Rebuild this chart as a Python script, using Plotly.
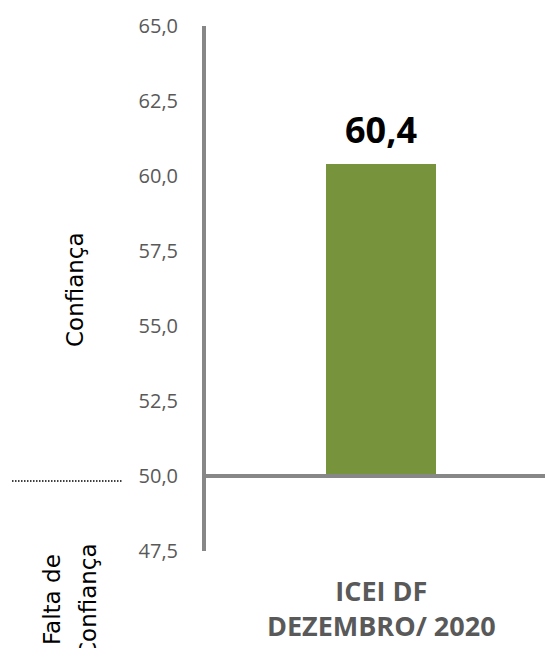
import plotly.graph_objects as go

# ---- data ----
categories = ["ICEI DF<br>DEZEMBRO/ 2020"]
values = [60.4]
baseline = 50.0
y_ticks = [47.5, 50.0, 52.5, 55.0, 57.5, 60.0, 62.5, 65.0]
y_range = [47.5, 65.0]

# page has an 8px body margin; compensate so the figure lands where the reference is
OFF = 8
W, H = 553 - OFF, 648 - OFF
ML, MR, MT, MB = 206 - OFF, 0, 26 - OFF, 97
PW, PH = W - ML - MR, H - MT - MB

def px_x(px):
    return (px - OFF - ML) / PW

def px_y(py):
    return (H - MB - (py - OFF)) / PH

fig = go.Figure()
fig.add_trace(go.Bar(
    x=categories,
    y=[v - baseline for v in values],
    base=[baseline] * len(values),
    marker=dict(color="#77933C", line=dict(width=0)),
    width=0.315,
    hoverinfo="skip",
))

for c, v in zip(categories, values):
    fig.add_annotation(
        x=c, y=v, xref="x", yref="y",
        text=f"{v:.1f}".replace(".", ","),
        showarrow=False, yanchor="bottom", yshift=8,
        font=dict(family="Open Sans", size=36, color="#000000", weight="bold"),
    )

# horizontal reference line at 50
fig.add_shape(type="line", xref="paper", yref="y", x0=0, x1=1,
              y0=baseline, y1=baseline,
              line=dict(color="#878787", width=4), layer="above")

# dotted line on left
fig.add_shape(type="line", xref="paper", yref="paper",
              x0=px_x(12), x1=px_x(122), y0=px_y(481), y1=px_y(481),
              line=dict(color="#000000", width=1.5, dash="1.5px,1.5px"))

side_font = dict(family="DejaVu Sans", size=23, color="#000000")
fig.add_annotation(xref="paper", yref="paper", x=px_x(75), y=px_y(290),
                   text="Confiança", textangle=-90, showarrow=False,
                   xanchor="center", yanchor="middle", font=side_font)
fig.add_annotation(xref="paper", yref="paper", x=px_x(52), y=px_y(600),
                   text="Falta de", textangle=-90, showarrow=False,
                   xanchor="center", yanchor="middle", font=side_font)
fig.add_annotation(xref="paper", yref="paper", x=px_x(88), y=px_y(600),
                   text="Confiança", textangle=-90, showarrow=False,
                   xanchor="center", yanchor="middle", font=side_font)

fig.update_layout(
    width=W, height=H,
    margin=dict(l=ML, r=MR, t=MT, b=MB, pad=0),
    paper_bgcolor="white", plot_bgcolor="white",
    separators=",.",
    showlegend=False,
    bargap=0,
)
fig.update_xaxes(
    range=[-0.5, 0.49], showline=False, showgrid=False, zeroline=False,
    ticks="", tickfont=dict(family="Open Sans", size=27, color="#595959", weight="bold"),
    ticklabelstandoff=22,
)
fig.update_yaxes(
    range=y_range, tickvals=y_ticks, tickformat=".1f",
    showline=True, linecolor="#878787", linewidth=4,
    showgrid=False, zeroline=False, ticks="",
    tickfont=dict(family="Open Sans", size=20, color="#595959"),
    ticklabelstandoff=20,
)

fig.write_html("out.html")
